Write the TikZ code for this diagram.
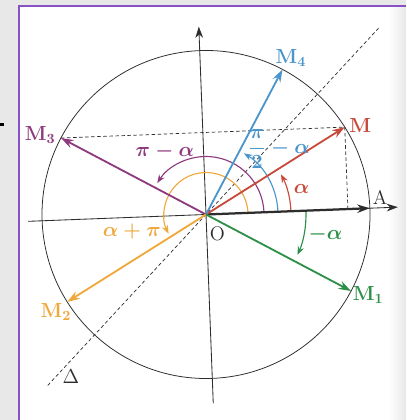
\documentclass[tikz,border=0pt]{standalone}
\usepackage{tikz}
\usetikzlibrary{arrows.meta, calc}
\definecolor{TrigRed}{RGB}{200, 74, 58}
\definecolor{TrigBlue}{RGB}{74, 150, 204}
\definecolor{TrigPurple}{RGB}{142, 58, 126}
\definecolor{TrigOrange}{RGB}{240, 168, 58}
\definecolor{TrigGreen}{RGB}{46, 144, 72}
\definecolor{TrigFrame}{RGB}{138, 80, 200}
\definecolor{TrigPage}{RGB}{232, 232, 232}
\definecolor{TrigInk}{RGB}{45, 45, 45}

\tikzset{
  vect/.style={line width=1.3pt, -{Stealth[length=9pt, width=6pt]}},
  angarc/.style={line width=0.8pt, -{Stealth[length=6pt, width=4.5pt]}},
  axisline/.style={TrigInk, line width=0.6pt, -{Stealth[length=8pt, width=5.5pt]}},
  guide/.style={TrigInk, line width=0.5pt, dash pattern=on 2.5pt off 1.8pt},
  pointlbl/.style={font=\fontsize{14.5}{16}\selectfont\bfseries},
  anglbl/.style={font=\fontsize{14.5}{16}\selectfont\boldmath},
  plainlbl/.style={font=\fontsize{14}{16}\selectfont, TrigInk},
}

\begin{document}
\begin{tikzpicture}[x=0.25mm, y=0.25mm]
  \useasboundingbox (0,0) rectangle (406,420);
  % page and frame
  \fill[TrigPage] (0,0) rectangle (406,420);
  \fill[white] (19,0) rectangle (406,414);
  \shade[left color=white, right color=TrigPage] (388,0) rectangle (406,414);
  \draw[TrigFrame, line width=1.4pt] (19,0) -- (19,414) -- (406,414);
  \fill[black] (0,294) rectangle (4,297);

  \begin{scope}[shift={(206,205.5)}, rotate=2.2]
    \coordinate (O) at (0,0);
    \coordinate (A) at (0:164);
    \coordinate (M) at (30:164);
    \coordinate (M1) at (-30:164);
    \coordinate (M2) at (210:164);
    \coordinate (M3) at (150:164);
    \coordinate (M4) at (60:164);
    \coordinate (H) at (30:164 |- O);
    \coordinate (xl) at (-178,0);
    \coordinate (xr) at (192,0);
    \coordinate (yb) at (0,-189);
    \coordinate (yt) at (0,188);
    \coordinate (dl) at (225:233);
    \coordinate (du) at (45:254);

    % circle, axes, guides
    \draw[TrigInk, line width=0.55pt] (O) circle[radius=164];
    \draw[axisline] (xl) -- (xr);
    \draw[axisline] (yb) -- (yt);
    \draw[guide] (dl) -- (du);
    \draw[guide] (M3) -- (M);
    \draw[guide] (M) -- (H);

    % angle arcs
    \draw[angarc, TrigOrange] (O) ++(0:42) arc[start angle=0, end angle=205, radius=42];
    \draw[angarc, TrigPurple] (O) ++(0:58) arc[start angle=0, end angle=145, radius=58];
    \draw[angarc, TrigBlue] (O) ++(0:72) arc[start angle=0, end angle=56, radius=72];
    \draw[angarc, TrigRed] (O) ++(0:85) arc[start angle=0, end angle=26, radius=85];
    \draw[angarc, TrigGreen] (O) ++(0:100) arc[start angle=0, end angle=-26, radius=100];

    % vectors
    \draw[vect, TrigInk, line width=1.6pt] (O) -- (A);
    \draw[vect, TrigRed] (O) -- (M);
    \draw[vect, TrigBlue] (O) -- (M4);
    \draw[vect, TrigPurple] (O) -- (M3);
    \draw[vect, TrigOrange] (O) -- (M2);
    \draw[vect, TrigGreen] (O) -- (M1);

    % labels
    \node[pointlbl, TrigRed] (lblM) at (27.7:178) {M};
    \node[pointlbl, TrigBlue] (lblM4) at (59.3:178) {M$_{\mathbf{4}}$};
    \node[pointlbl, TrigPurple] (lblM3) at (152.2:184) {M$_{\mathbf{3}}$};
    \node[pointlbl, TrigOrange] (lblM2) at (210.8:179) {M$_{\mathbf{2}}$};
    \node[pointlbl, TrigGreen] (lblM1) at (-28.5:181) {M$_{\mathbf{1}}$};
    \node[plainlbl] (lblA) at (3.5:175) {A};
    \node[plainlbl] (lblO) at (-61:22) {O};
    \node[plainlbl] (lblD) at (228:211) {$\Delta$};
    \node[anglbl, TrigRed] (lbla) at (12.8:99) {$\alpha$};
    \node[anglbl, TrigBlue] (lblb) at (39.7:98) {$\displaystyle\frac{\pi}{2}-\alpha$};
    \node[anglbl, TrigPurple] (lblc) at (121:75) {$\pi-\alpha$};
    \node[anglbl, TrigOrange] (lbld) at (190.4:76) {$\alpha+\pi$};
    \node[anglbl, TrigGreen] (lble) at (-11.5:121) {$-\alpha$};
  \end{scope}
\end{tikzpicture}
\end{document}
